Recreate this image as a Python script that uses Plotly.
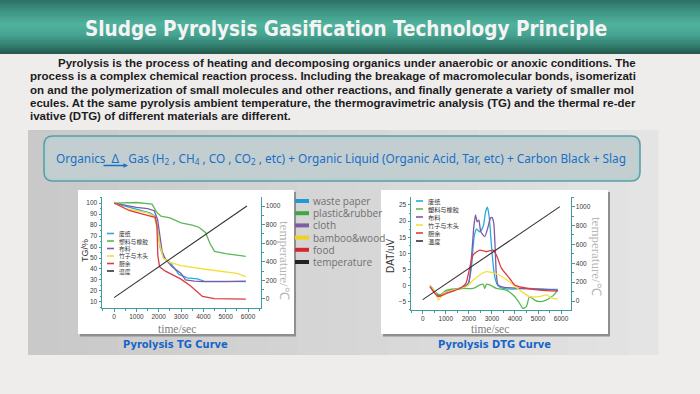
import plotly.graph_objects as go

W, H = 700, 394
def X(px): return px / W
def Y(py): return 1 - py / H

# ---------------- data ----------------
materials_en = ["waste paper", "plastic&rubber", "cloth", "bamboo&wood", "food", "temperature"]
materials_cn = ["废纸", "塑料与橡胶", "布料", "竹子与木头", "厨余", "温度"]
colors = ["#2aa9e0", "#5bb955", "#7f5aa4", "#f4df3a", "#df3a42", "#333333"]
legend_colors = ["#1e9ad6", "#3aa845", "#7d5ca3", "#f0d21e", "#d4262e", "#222222"]

# TG curves (time/sec, TG/%)
tg_paper_t = [0, 1000, 1600, 1840, 1950, 2070, 2220, 2520, 2900, 3280, 3730, 4030, 5000, 5900]
tg_paper_v = [100, 94, 91, 88, 76, 59, 50, 46, 35, 32, 31, 29, 28.5, 28.5]
tg_plastic_t = [0, 1000, 1700, 1900, 2100, 2500, 3000, 3500, 3800, 4100, 4300, 4500, 5000, 5500, 5900]
tg_plastic_v = [100, 100.5, 99, 92, 88, 86.5, 82, 80, 78, 73, 63, 56, 54, 52.5, 51.5]
tg_cloth_t = [0, 500, 1000, 1500, 1800, 1950, 2050, 2150, 2300, 2600, 3000, 3200, 3600, 4000, 5000, 5900]
tg_cloth_v = [100, 98, 96, 95, 93, 85, 70, 56, 49, 42, 36, 30, 29, 28.5, 28.5, 29]
tg_bamboo_t = [0, 500, 1000, 1500, 1800, 1950, 2050, 2200, 2500, 3000, 4000, 5000, 5500, 5900]
tg_bamboo_v = [100, 95, 93, 91, 88, 75, 62, 50, 46, 43, 40, 37, 36, 33]
tg_food_t = [0, 700, 1450, 1840, 1920, 1960, 2040, 2300, 2980, 3430, 3960, 4490, 5900]
tg_food_v = [100, 93, 89, 87, 79, 52, 42, 38, 31, 24.5, 15, 13, 12.5]
temp_t = [0, 5950]
temp_v = [15, 1000]

# DTG curves (time/sec, DAT/uV)
dtg_paper_t = [317, 530, 676, 890, 1320, 1755, 1970, 2115, 2230, 2330, 2475, 2620, 2730, 2805, 2880, 2950, 3020, 3120, 3266, 3480, 3910, 4630, 5350, 5856]
dtg_paper_v = [0, -1.9, -3.2, -2.4, -1.4, -0.5, 0.7, 5.9, 15.2, 17.5, 16.7, 18.3, 23, 24.3, 21.4, 15.2, 9, 2.8, -0.1, -0.85, -1.1, -0.85, -1.1, -1.2]
dtg_plastic_t = [317, 600, 750, 1036, 1755, 2187, 2475, 2620, 2690, 2763, 2906, 3194, 3626, 3986, 4201, 4345, 4489, 4633, 4849, 5065, 5352, 5640, 5856]
dtg_plastic_v = [0, -2.4, -2.9, -1.4, -0.9, -0.9, 0.2, 0.4, -0.9, 0.4, 0.2, -0.9, -1.4, -3.4, -5.5, -7.1, -6.6, -3.4, -4.5, -5, -4.5, -3.2, -1.4]
dtg_cloth_t = [317, 600, 750, 1036, 1611, 1970, 2115, 2216, 2288, 2360, 2432, 2518, 2690, 2834, 2935, 3007, 3080, 3137, 3194, 3266, 3482, 4201, 5856]
dtg_cloth_v = [-0.3, -2.9, -3.2, -1.9, -0.9, 0.4, 9, 18.3, 21.9, 19.8, 20.3, 16.7, 15.2, 18.3, 20.9, 21.1, 19.3, 12.1, 3.3, 0.2, -0.5, -0.85, -1.4]
dtg_bamboo_t = [317, 530, 676, 890, 1320, 1900, 2187, 2475, 2763, 3120, 3482, 3842, 4201, 4633, 5065, 5352, 5640, 5856]
dtg_bamboo_v = [0, -1.9, -4.5, -2.4, -1.4, -0.3, 1.7, 3.3, 4.3, 3.8, 2.6, 0.7, -1.4, -3.4, -3.4, -2.9, -4.0, -4.2]
dtg_food_t = [317, 676, 1036, 1611, 1870, 2014, 2187, 2475, 2763, 3050, 3223, 3410, 3770, 3986, 4345, 5065, 5856]
dtg_food_v = [-0.3, -3.4, -2.4, -0.9, 0.7, 4.8, 9.5, 11, 10.5, 11, 9, 5.4, 2.2, 0.2, -0.6, -1.4, -1.7]

tg_series = [(tg_paper_t, tg_paper_v), (tg_plastic_t, tg_plastic_v), (tg_cloth_t, tg_cloth_v),
             (tg_bamboo_t, tg_bamboo_v), (tg_food_t, tg_food_v)]
dtg_series = [(dtg_paper_t, dtg_paper_v), (dtg_plastic_t, dtg_plastic_v), (dtg_cloth_t, dtg_cloth_v),
              (dtg_bamboo_t, dtg_bamboo_v), (dtg_food_t, dtg_food_v)]

title_text = "Sludge Pyrolysis Gasification Technology Principle"
body_lines = [
    "Pyrolysis is the process of heating and decomposing organics under anaerobic or anoxic conditions. The",
    "process is a complex chemical reaction process. Including the breakage of macromolecular bonds, isomerizati",
    "on and the polymerization of small molecules and other reactions, and finally generate a variety of smaller mol",
    "ecules. At the same pyrolysis ambient temperature, the thermogravimetric analysis (TG) and the thermal re-der",
    "ivative (DTG) of different materials are different.",
]
formula_text = ("Organics  Δ   Gas (H<sub>2</sub> , CH<sub>4</sub> , CO , CO<sub>2</sub> , etc) + Organic Liquid "
                "(Organic Acid, Tar, etc) + Carbon Black + Slag")
tg_xticks = [0, 1000, 2000, 3000, 4000, 5000, 6000]
tg_yticks = [10, 20, 30, 40, 50, 60, 70, 80, 90, 100]
dtg_yticks = [-5, 0, 5, 10, 15, 20, 25]
temp_ticks = [0, 200, 400, 600, 800, 1000]

# ---------------- figure ----------------
fig = go.Figure()

for i, (t, v) in enumerate(tg_series):
    fig.add_trace(go.Scatter(x=t, y=v, mode="lines", name=materials_cn[i], xaxis="x", yaxis="y",
                             line=dict(color=colors[i], width=1.3), showlegend=False))
fig.add_trace(go.Scatter(x=temp_t, y=temp_v, mode="lines", name=materials_cn[5], xaxis="x", yaxis="y2",
                         line=dict(color=colors[5], width=1.1), showlegend=False))
for i, (t, v) in enumerate(dtg_series):
    fig.add_trace(go.Scatter(x=t, y=v, mode="lines", name=materials_cn[i], xaxis="x2", yaxis="y3",
                             line=dict(color=colors[i], width=1.3, shape="spline", smoothing=0.6),
                             showlegend=False))
fig.add_trace(go.Scatter(x=temp_t, y=temp_v, mode="lines", name=materials_cn[5], xaxis="x2", yaxis="y4",
                         line=dict(color=colors[5], width=1.1), showlegend=False))

shapes = []
annotations = []

def note(text, px, py, size, color, family="Liberation Sans", xanchor="center", angle=0, weight="normal"):
    annotations.append(dict(text=text, xref="paper", yref="paper", x=X(px), y=Y(py), xanchor=xanchor,
                            yanchor="middle", showarrow=False, textangle=angle,
                            font=dict(family=family, size=size, color=color, weight=weight)))

# banner gradient
stops = [(0, (46, 112, 102)), (10, (60, 145, 128)), (24, (80, 178, 158)), (34, (72, 166, 146)),
         (46, (50, 126, 110)), (53, (36, 92, 80))]
def interp(y):
    for (y0, c0), (y1, c1) in zip(stops[:-1], stops[1:]):
        if y0 <= y <= y1:
            f = (y - y0) / (y1 - y0)
            return tuple(int(c0[k] + (c1[k] - c0[k]) * f) for k in range(3))
    return stops[-1][1]
for yy in range(0, 53, 2):
    c = interp(yy + 1)
    shapes.append(dict(type="rect", xref="paper", yref="paper", x0=0, x1=1, y0=Y(yy + 2), y1=Y(yy),
                       fillcolor="rgb(%d,%d,%d)" % c, line=dict(width=0), layer="below"))

# gray panel with horizontal gradient
n = 21
for k in range(n):
    x0 = 28 + (658 - 28) * k / n
    x1 = 28 + (658 - 28) * (k + 1) / n
    g = int(201 + (228 - 201) * k / (n - 1))
    shapes.append(dict(type="rect", xref="paper", yref="paper", x0=X(x0), x1=X(x1 + 0.5), y0=Y(355), y1=Y(130),
                       fillcolor="rgb(%d,%d,%d)" % (g, g, g), line=dict(width=0), layer="below"))

def rounded(x0, y0, x1, y1, r):
    rx, ry = r / W, r / H
    a, b, c, d = X(x0), Y(y0), X(x1), Y(y1)
    return (f"M {a+rx},{b} L {c-rx},{b} Q {c},{b} {c},{b-ry} L {c},{d+ry} Q {c},{d} {c-rx},{d} "
            f"L {a+rx},{d} Q {a},{d} {a},{d+ry} L {a},{b-ry} Q {a},{b} {a+rx},{b} Z")

shapes.append(dict(type="path", xref="paper", yref="paper", path=rounded(44, 136, 640, 181, 9),
                   fillcolor="#c3ced1", line=dict(color="#5a9fa4", width=1.6), layer="below"))
shapes.append(dict(type="path", xref="paper", yref="paper", path=rounded(46, 138, 638, 179, 8),
                   fillcolor="rgba(0,0,0,0)", line=dict(color="rgba(150,215,220,0.6)", width=1), layer="below"))

# white chart panels with shadow
for (x0, x1) in [(78, 294), (381, 608)]:
    shapes.append(dict(type="rect", xref="paper", yref="paper", x0=X(x0 + 2), x1=X(x1 + 2), y0=Y(336.5), y1=Y(192),
                       fillcolor="#8f8f8f", line=dict(width=0), layer="below"))
    shapes.append(dict(type="rect", xref="paper", yref="paper", x0=X(x0), x1=X(x1), y0=Y(334), y1=Y(190),
                       fillcolor="#ffffff", line=dict(width=0), layer="below"))

# title
note(title_text, 346, 28.5, 20.5, "#f4f4f4", family="Liberation Sans Narrow, DejaVu Sans Condensed, Roboto",
     weight="bold")
# body
body_y = [63, 76.3, 89.6, 103, 116.3]
for i, line in enumerate(body_lines):
    note(line, 56 if i == 0 else 28, body_y[i], 11.5, "#1c1c1c", family="Liberation Sans, Arial",
         xanchor="left", weight="bold")
# formula
note(formula_text, 54, 158, 11.8, "#1a6fc6", family="Noto Sans", xanchor="left")
annotations.append(dict(text="", xref="paper", yref="paper", x=X(128), y=Y(165.5), ax=-26, ay=0, showarrow=True,
                        arrowhead=2, arrowsize=0.7, arrowwidth=1.3, arrowcolor="#1a6fc6"))

# captions
for txt, cx in [("Pyrolysis TG Curve", 175), ("Pyrolysis DTG Curve", 494)]:
    note(txt, cx, 344, 11, "#1565c8", family="Liberation Sans Narrow, DejaVu Sans Condensed, Roboto",
         weight="bold")

# axis titles
note("TG/%", 85, 251, 9, "#333", angle=-90)
note("DAT/uV", 391, 256, 10, "#333", angle=-90)
note("temperature/℃", 285, 260, 13, "#b5b5b5", family="Liberation Serif", angle=90)
note("temperature/℃", 596, 256, 13, "#b5b5b5", family="Liberation Serif", angle=90)
note("time/sec", 177, 328.5, 11.5, "#7a7a7a", family="Liberation Serif")
note("time/sec", 490, 328.5, 11.5, "#7a7a7a", family="Liberation Serif")

# in-plot Chinese legends
def small_legend(x_sw, y_first, step, fsize):
    for i, name in enumerate(materials_cn):
        yy = y_first + step * i
        shapes.append(dict(type="line", xref="paper", yref="paper", x0=X(x_sw), x1=X(x_sw + 7), y0=Y(yy), y1=Y(yy),
                           line=dict(color=colors[i], width=1.6)))
        note(name, x_sw + 10, yy, fsize, "#333", family="Noto Sans CJK SC", xanchor="left")
small_legend(107, 233.5, 7.5, 5.8)
small_legend(416, 201, 8, 6.2)

# middle English legend
for i, name in enumerate(materials_en):
    yy = 201 + 12.2 * i
    shapes.append(dict(type="line", xref="paper", yref="paper", x0=X(295), x1=X(309), y0=Y(yy), y1=Y(yy),
                       line=dict(color=legend_colors[i], width=4)))
    note(name, 311, yy, 10, "#707070", family="Open Sans", xanchor="left")

axcol = "#3f9d9d"
tickfont = dict(family="Liberation Sans", size=6.5, color="#3a3a3a")
def axis(**kw):
    base = dict(showline=True, linecolor=axcol, linewidth=1, ticks="outside", ticklen=2.5, tickwidth=1,
                tickcolor=axcol, showgrid=False, zeroline=False, tickfont=tickfont, fixedrange=True)
    base.update(kw)
    return base

fig.update_layout(
    width=W, height=H, margin=dict(l=0, r=0, t=0, b=0),
    paper_bgcolor="#efecec", plot_bgcolor="rgba(0,0,0,0)",
    showlegend=False,
    xaxis=axis(domain=[X(102), X(261)], range=[-540, 6580], anchor="y", tickvals=tg_xticks,
               minor=dict(ticks="outside", ticklen=1.5, dtick=500, tickcolor=axcol)),
    yaxis=axis(domain=[Y(308), Y(197)], range=[4.5, 105.5], anchor="x", tickvals=tg_yticks,
               minor=dict(ticks="outside", ticklen=1.5, dtick=5, tickcolor=axcol)),
    yaxis2=axis(range=[-97, 1097], anchor="x", overlaying="y", side="right", tickvals=temp_ticks,
                minor=dict(ticks="outside", ticklen=1.5, dtick=100, tickcolor=axcol)),
    xaxis2=axis(domain=[X(411), X(571)], range=[-510, 6430], anchor="y3", tickvals=tg_xticks,
                minor=dict(ticks="outside", ticklen=1.5, dtick=500, tickcolor=axcol)),
    yaxis3=axis(domain=[Y(310), Y(197)], range=[-7.58, 27.48], anchor="x2", tickvals=dtg_yticks,
                minor=dict(ticks="outside", ticklen=1.5, dtick=2.5, tickcolor=axcol)),
    yaxis4=axis(range=[-95, 1102], anchor="x2", overlaying="y3", side="right", tickvals=temp_ticks,
                minor=dict(ticks="outside", ticklen=1.5, dtick=100, tickcolor=axcol)),
    shapes=shapes, annotations=annotations,
)

fig.write_html("out.html", config={"displayModeBar": False},
               post_script="document.body.style.margin='0';document.body.style.overflow='hidden';")
